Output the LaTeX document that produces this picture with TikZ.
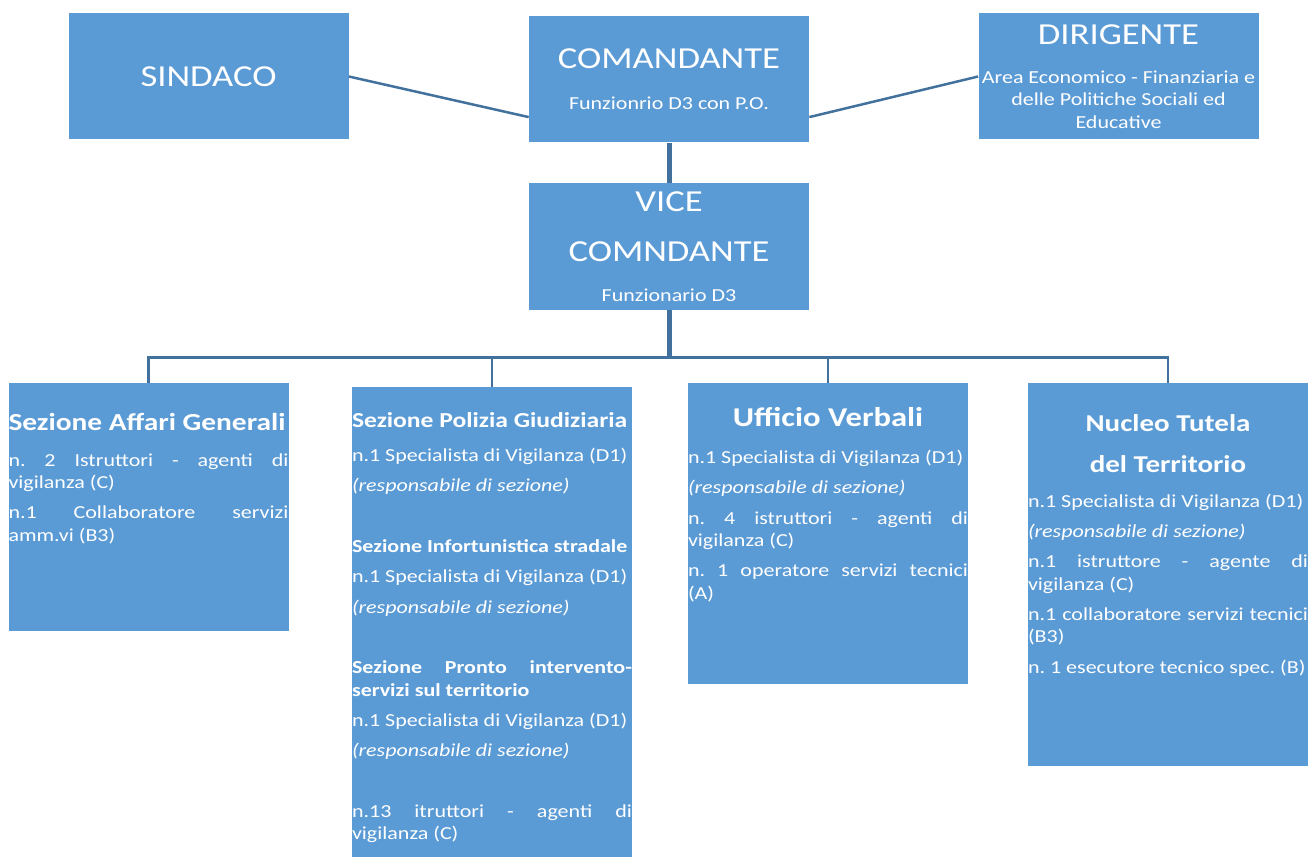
\documentclass[tikz,border=0pt]{standalone}
\usepackage{fontspec}
\setmainfont{Carlito}[FakeStretch=1.2]
\usetikzlibrary{positioning,calc}
\definecolor{boxblue}{HTML}{5B9BD5}
\definecolor{linkblue}{HTML}{41719C}
\tikzstyle{unit} = [rectangle, fill=boxblue, minimum width=168pt, minimum height=75.6pt, inner sep=0pt, text=white, align=center, font=\fontsize{11}{13.4}\selectfont]
\tikzstyle{section} = [rectangle, fill=boxblue, minimum width=168pt, inner sep=0pt, anchor=north]
\tikzstyle{body} = [text=white, text width=168pt, inner sep=0pt, align=justify, anchor=base west, font=\fontsize{11}{13.4}\selectfont]
\tikzstyle{link} = [draw=linkblue, line width=1.5pt]
\tikzstyle{trunk} = [draw=linkblue, line width=3pt]
\newcommand{\titlefont}{\fontsize{18.3}{22}\selectfont}
\newcommand{\bodyset}{\frenchspacing\setlength{\parskip}{4.8pt}\tolerance=10000 \hbadness=10000 }
\newcommand{\specvig}{n.1 Specialista di Vigilanza (D1)}
\newcommand{\respsez}{\textit{(responsabile di sezione)}}

\begin{document}
\begin{tikzpicture}[x=0.6pt, y=-0.6pt]
\useasboundingbox (0,0) rectangle (1308,857);
% top row
\node (sindaco) [unit] at (208.5,76.5) {{\titlefont SINDACO}};
\node (comandante) [unit] at (669,79.5) {{\titlefont COMANDANTE}\\[11pt]Funzionrio D3 con P.O.};
\node (dirigente) [unit] at (1118.5,76.5) {{\titlefont DIRIGENTE}\\[10pt]Area Economico - Finanziaria e\\delle Politiche Sociali ed\\Educative};
\node (vice) [unit, minimum height=76.2pt, below=24pt of comandante] {{\titlefont VICE}\\[16.6pt]{\titlefont COMNDANTE}\\[10.6pt]Funzionario D3};

% sections
\node (affari) [section, minimum height=148.8pt] at (148.5,383) {};
\node (polizia) [section, minimum height=282pt] at (492,387) {};
\node (verbali) [section, minimum height=180.6pt] at (828,383) {};
\node (nucleo) [section, minimum height=229.8pt] at (1168,383) {};

\node (affari-txt) [body] at ($(affari.north west)+(0,47.7)$) {\bodyset
{\fontsize{14.7}{18}\selectfont\bfseries Sezione Affari Generali\par}\vspace{3pt}
n. 2 Istruttori - agenti di\linebreak vigilanza (C)\par
n.1 Collaboratore servizi\linebreak amm.vi (B3)};

\node (polizia-txt) [body] at ($(polizia.north west)+(0,41)$) {\bodyset
{\fontsize{12.8}{15.9}\selectfont\bfseries Sezione Polizia Giudiziaria\par}\vspace{2pt}
\specvig\par
\respsez\par
\mbox{}\par
{\bfseries Sezione Infortunistica stradale\par}
\specvig\par
\respsez\par
\mbox{}\par
{\bfseries Sezione Pronto intervento-\linebreak servizi sul territorio\par}
\specvig\par
\respsez\par
\mbox{}\par
n.13 itruttori - agenti di\linebreak vigilanza (C)};

\node (verbali-txt) [body] at ($(verbali.north west)+(0,43.7)$) {\bodyset
{\centering\fontsize{16.3}{19.5}\selectfont\bfseries Ufficio Verbali\par}\vspace{3.8pt}
\specvig\par
\respsez\par
n. 4 istruttori - agenti di\linebreak vigilanza (C)\par
n. 1 operatore servizi tecnici\linebreak (A)};

\node (nucleo-txt) [body] at ($(nucleo.north west)+(0,48.7)$) {\bodyset
{\centering\fontsize{14.5}{19.5}\selectfont\bfseries Nucleo Tutela\par del Territorio\par}\vspace{2.8pt}
\specvig\par
\respsez\par
n.1 istruttore - agente di\linebreak vigilanza (C)\par
n.1 collaboratore servizi tecnici\linebreak (B3)\par
n. 1 esecutore tecnico spec. (B)};

% connectors
\draw [link] (sindaco.east) -- (comandante.-165);
\draw [link] (comandante.-15) -- (dirigente.west);
\draw [trunk] (comandante) -- (vice);
\coordinate (bus) at ($(vice.south)+(0,47)$);
\draw [trunk] (vice) -- (bus);
\foreach \dept in {affari,polizia,verbali,nucleo}
  \draw [link] (bus) -| (\dept);
\end{tikzpicture}
\end{document}
